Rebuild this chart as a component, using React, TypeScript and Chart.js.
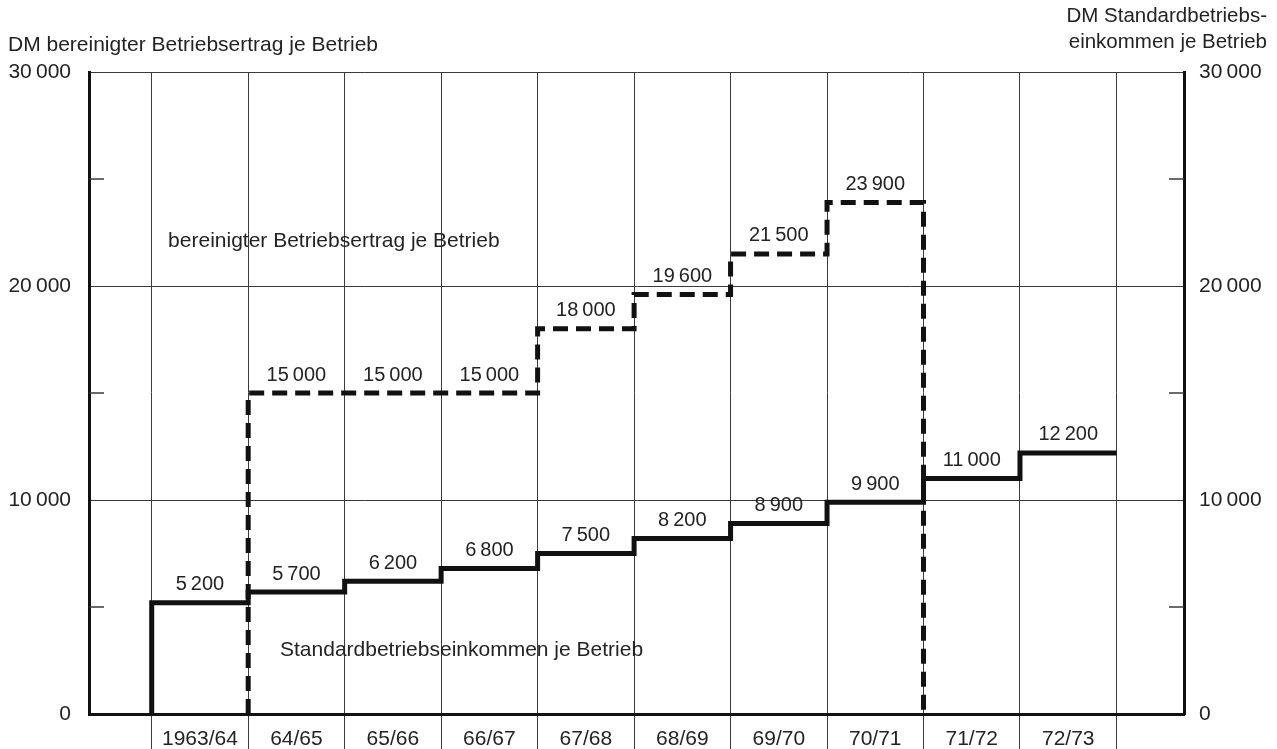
import { useEffect, useRef } from "react";
import { Chart, registerables } from "chart.js";

Chart.register(...registerables);

// Wirtschaftsjahre und Werte je Betrieb (DM)
const categories = ["1963/64", "64/65", "65/66", "66/67", "67/68", "68/69", "69/70", "70/71", "71/72", "72/73"];
const einkommen = [5200, 5700, 6200, 6800, 7500, 8200, 8900, 9900, 11000, 12200];
const ertrag: (number | null)[] = [null, 15000, 15000, 15000, 18000, 19600, 21500, 23900, null, null];
const yTicks = [0, 10000, 20000, 30000];
const yMinorTicks = [5000, 15000, 25000];

const INK = "#111";
const GRID = "#3a3a3a";
const TEXT = "#232323";
const FONT = "'Liberation Sans', Arial, Helvetica, sans-serif";

Chart.defaults.font.family = FONT;

const fmt = (n: number) => String(n).replace(/\B(?=(\d{3})+(?!\d))/g, "\u2009");

// step outline: rises from zero at the first year, ends either flat or back at zero
function stepPoints(values: (number | null)[], dropAtEnd: boolean) {
  const idx = values.map((v, i) => (v == null ? -1 : i)).filter((i) => i >= 0);
  const first = idx[0];
  const last = idx[idx.length - 1];
  const pts = [{ x: first, y: 0 }];
  idx.forEach((i) => pts.push({ x: i, y: values[i] as number }));
  pts.push({ x: last + 1, y: dropAtEnd ? 0 : (values[last] as number) });
  return pts;
}

const xTickValues: number[] = [];
categories.forEach((_, i) => xTickValues.push(i, i + 0.5));
xTickValues.push(categories.length);

const minorTicks = {
  id: "minorTicks",
  beforeDatasetsDraw(chart: any) {
    const { ctx, chartArea, scales } = chart;
    ctx.save();
    ctx.strokeStyle = GRID;
    ctx.lineWidth = 1.5;
    yMinorTicks.forEach((v) => {
      const py = scales.y.getPixelForValue(v);
      ctx.beginPath();
      ctx.moveTo(chartArea.left, py);
      ctx.lineTo(chartArea.left + 15, py);
      ctx.moveTo(chartArea.right - 15, py);
      ctx.lineTo(chartArea.right, py);
      ctx.stroke();
    });
    ctx.restore();
  },
};

const stepLabels = {
  id: "stepLabels",
  afterDatasetsDraw(chart: any) {
    const { ctx, scales } = chart;
    const { x, y } = scales;
    ctx.save();
    ctx.fillStyle = TEXT;
    ctx.textAlign = "center";
    ctx.textBaseline = "middle";
    ctx.font = `20px ${FONT}`;
    [einkommen, ertrag].forEach((series) =>
      series.forEach((v, i) => {
        if (v == null) return;
        ctx.fillText(fmt(v), x.getPixelForValue(i + 0.5), y.getPixelForValue(v) - 18);
      })
    );
    // series names inside the plot
    ctx.font = `21px ${FONT}`;
    ctx.textAlign = "left";
    ctx.fillText("bereinigter Betriebsertrag je Betrieb", x.getPixelForValue(0.17), y.getPixelForValue(22100));
    ctx.fillText("Standardbetriebseinkommen je Betrieb", x.getPixelForValue(1.33), y.getPixelForValue(3000));
    ctx.restore();
  },
};

export default function App() {
  const chartRef = useRef<HTMLCanvasElement>(null);

  useEffect(() => {
    if (!chartRef.current) return;

    const yTickOpts = {
      font: { size: 21 },
      color: TEXT,
      callback: (v: any) => fmt(Number(v)),
    };

    const chart = new Chart(chartRef.current, {
      type: "line",
      data: {
        datasets: [
          {
            label: "Standardbetriebseinkommen je Betrieb",
            data: stepPoints(einkommen, false),
            stepped: true,
            borderColor: INK,
            borderWidth: 5,
            borderJoinStyle: "miter",
            borderCapStyle: "butt",
            pointRadius: 0,
            fill: false,
          },
          {
            label: "bereinigter Betriebsertrag je Betrieb",
            data: stepPoints(ertrag, true),
            stepped: true,
            borderColor: INK,
            borderWidth: 5,
            borderDash: [15, 8],
            borderJoinStyle: "miter",
            borderCapStyle: "butt",
            pointRadius: 0,
            fill: false,
          },
        ],
      },
      options: {
        animation: false,
        responsive: false,
        layout: { padding: { top: 72, left: 0, right: 0, bottom: 0 } },
        plugins: {
          legend: { display: false },
          tooltip: { enabled: false },
        },
        scales: {
          x: {
            type: "linear",
            min: -0.65,
            max: 10.7,
            afterBuildTicks: (s: any) => {
              s.ticks = xTickValues.map((v) => ({ value: v }));
            },
            afterFit: (s: any) => {
              s.height = 35;
            },
            grid: {
              color: (c: any) => (c.tick && c.tick.value % 1 === 0 ? GRID : "transparent"),
              tickColor: (c: any) => (c.tick && c.tick.value % 1 === 0 ? GRID : "transparent"),
              lineWidth: 1,
              tickLength: 35,
            },
            border: { display: true, color: INK, width: 3 },
            ticks: {
              autoSkip: false,
              maxRotation: 0,
              padding: -22,
              font: { size: 21 },
              color: TEXT,
              callback: (v: any) => (Number(v) % 1 === 0 ? "" : categories[Math.floor(Number(v))]),
            },
          },
          y: {
            min: 0,
            max: 30000,
            afterBuildTicks: (s: any) => {
              s.ticks = yTicks.map((v) => ({ value: v }));
            },
            afterFit: (s: any) => {
              s.width = 89;
            },
            grid: { color: GRID, lineWidth: 1, drawTicks: false },
            border: { display: true, color: INK, width: 3 },
            ticks: { ...yTickOpts, padding: 18 },
          },
          y2: {
            position: "right",
            min: 0,
            max: 30000,
            afterBuildTicks: (s: any) => {
              s.ticks = yTicks.map((v) => ({ value: v }));
            },
            afterFit: (s: any) => {
              s.width = 93;
            },
            grid: { drawOnChartArea: false, drawTicks: false },
            border: { display: true, color: INK, width: 3 },
            ticks: { ...yTickOpts, padding: 15 },
          },
        },
      } as any,
      plugins: [minorTicks, stepLabels],
    });

    return () => {
      chart.destroy();
    };
  }, []);

  return (
    <div style={{ position: "absolute", left: 0, top: 0, width: 1277, height: 749, background: "#fff", fontFamily: FONT, color: TEXT }}>
      <canvas ref={chartRef} width={1277} height={749} style={{ position: "absolute", left: 0, top: 0 }} />
      <div style={{ position: "absolute", left: 8, top: 32, fontSize: 21, lineHeight: "24px", whiteSpace: "nowrap" }}>
        DM bereinigter Betriebsertrag je Betrieb
      </div>
      <div style={{ position: "absolute", right: 10, top: 2, fontSize: 20.5, lineHeight: "26px", textAlign: "right", whiteSpace: "nowrap" }}>
        DM Standardbetriebs-
        <br />
        einkommen je Betrieb
      </div>
    </div>
  );
}
